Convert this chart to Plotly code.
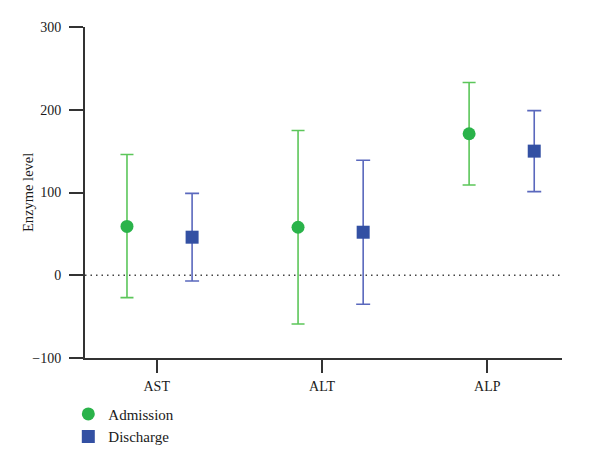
import plotly.graph_objects as go

categories = ["AST", "ALT", "ALP"]
admission_mean = [59, 58, 171]
admission_low = [-27, -59, 109]
admission_high = [146, 175, 233]
discharge_mean = [46, 52, 150]
discharge_low = [-7, -35, 101]
discharge_high = [99, 139, 199]

y_ticks = [-100, 0, 100, 200, 300]

# layout positions (not data)
group_step = 1.035
adm_offset = -0.18
dis_offset = 0.214

adm_x = [i * group_step + adm_offset for i in range(len(categories))]
dis_x = [i * group_step + dis_offset for i in range(len(categories))]

FONT = "Liberation Serif"
GREEN = "#2ab34a"
GREEN_BAR = "#5cc65a"
BLUE = "#3350a3"
BLUE_BAR = "#5a68bd"

fig = go.Figure()
fig.add_trace(go.Scatter(
    x=adm_x, y=admission_mean, mode="markers", name="Admission",
    marker=dict(symbol="circle", size=13, color=GREEN),
    error_y=dict(type="data", symmetric=False,
                 array=[h - m for h, m in zip(admission_high, admission_mean)],
                 arrayminus=[m - l for l, m in zip(admission_low, admission_mean)],
                 color=GREEN_BAR, thickness=1.6, width=6.5),
))
fig.add_trace(go.Scatter(
    x=dis_x, y=discharge_mean, mode="markers", name="Discharge",
    marker=dict(symbol="square", size=13, color=BLUE),
    error_y=dict(type="data", symmetric=False,
                 array=[h - m for h, m in zip(discharge_high, discharge_mean)],
                 arrayminus=[m - l for l, m in zip(discharge_low, discharge_mean)],
                 color=BLUE_BAR, thickness=1.6, width=7),
))

fig.add_shape(type="line", xref="paper", x0=0, x1=1, yref="y", y0=0, y1=0,
              line=dict(color="#444444", width=1.5, dash="1.5px,4px"), layer="below")

fig.add_annotation(text="Enzyme level", xref="paper", yref="paper",
                   x=-0.1205, y=0.5, xanchor="center", yanchor="middle",
                   textangle=-90, showarrow=False,
                   font=dict(family=FONT, size=14.5, color="#1a1a1a"))

fig.update_layout(
    width=600, height=465,
    margin=dict(l=85, r=38, t=27, b=107),
    paper_bgcolor="white", plot_bgcolor="white",
    font=dict(family=FONT, size=14, color="#1a1a1a"),
    showlegend=True,
    legend=dict(x=-0.035, xanchor="left", y=-0.12, yanchor="top",
                font=dict(family=FONT, size=15, color="#1a1a1a"),
                bgcolor="rgba(0,0,0,0)", tracegroupgap=0),
    xaxis=dict(range=[-0.434, 2.452], tickvals=list(range(len(categories))),
               ticktext=categories, showline=True, linecolor="#333333",
               linewidth=2, ticks="outside", ticklen=13, tickwidth=2,
               tickcolor="#333333", showgrid=False, zeroline=False,
               ticklabelstandoff=1),
    yaxis=dict(range=[-100, 300], tickvals=y_ticks, showline=True,
               linecolor="#333333", linewidth=2, ticks="outside", ticklen=14,
               tickwidth=2, tickcolor="#333333", showgrid=False, zeroline=False,
               ticklabelstandoff=5),
)

fig.write_html("out.html")
